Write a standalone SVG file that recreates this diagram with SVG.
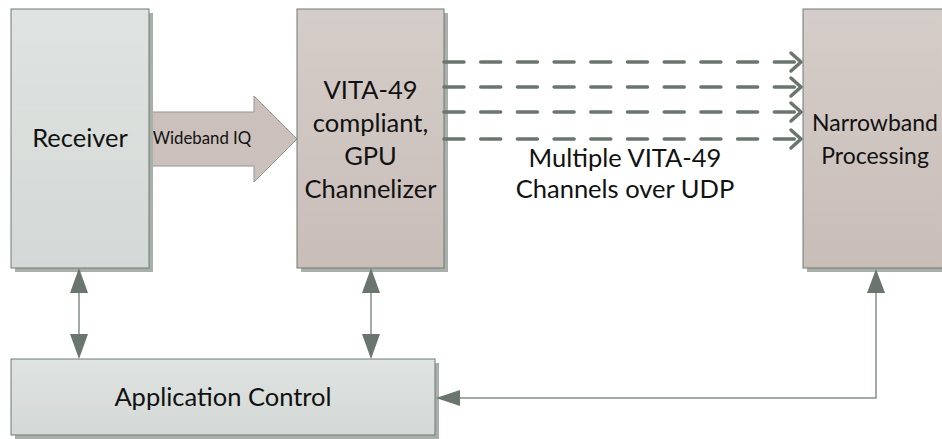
<svg xmlns="http://www.w3.org/2000/svg" width="942" height="439" viewBox="0 0 942 439">
<style>
.shadow{fill:#a9b0ac}
.box{stroke:#6f7a74;stroke-width:1}
.t{font-family:Lato,"Liberation Sans",sans-serif;fill:#111;text-anchor:middle}
.big{font-size:25.5px}
.mid{font-size:23px}
.dash{fill:none;stroke:#6a756e;stroke-width:3.5;stroke-dasharray:20 16.7;stroke-linecap:round}
.ctl{fill:none;stroke:#848e89;stroke-width:1.5}
.head{fill:#6a756e}
</style>
<defs>
<linearGradient id="gGreen" x1="0" y1="0" x2="0" y2="1">
<stop offset="0" stop-color="#dfe3e1"/><stop offset="1" stop-color="#d3d9d6"/>
</linearGradient>
<linearGradient id="gTaupe" x1="0" y1="0" x2="0" y2="1">
<stop offset="0" stop-color="#d5cdc9"/><stop offset="1" stop-color="#c9bdb8"/>
</linearGradient>
<marker id="chev" markerUnits="userSpaceOnUse" markerWidth="16" markerHeight="24" refX="13" refY="12" orient="auto" overflow="visible">
<path d="M3,3 L13,12 L3,21" fill="none" stroke="#6a756e" stroke-width="3.5" stroke-linecap="round" stroke-linejoin="round"/>
</marker>
</defs>

<g id="wideband-arrow">
<polygon points="149,112 254,112 254,96 297,139 254,182 254,166 149,166" fill="#cbc0bb" stroke="#8f9791" stroke-width="1"/>
<text class="t" x="202" y="144" style="font-size:16.8px">Wideband IQ</text>
</g>

<g id="receiver">
<rect class="shadow" x="15" y="13" width="138" height="259"/>
<rect class="box" x="11" y="9" width="138" height="259" fill="url(#gGreen)"/>
<text class="t big" x="80" y="147">Receiver</text>
</g>

<g id="channelizer">
<rect class="shadow" x="301" y="13" width="147" height="259"/>
<rect class="box" x="297" y="9" width="147" height="259" fill="url(#gTaupe)"/>
<text class="t big" x="370.5" y="99">VITA-49</text>
<text class="t big" x="370.5" y="132">compliant,</text>
<text class="t big" x="370.5" y="165">GPU</text>
<text class="t big" x="370.5" y="198">Channelizer</text>
</g>

<g id="narrowband">
<rect class="shadow" x="807" y="13" width="144" height="259"/>
<rect class="box" x="803" y="9" width="144" height="259" fill="url(#gTaupe)"/>
<text class="t mid" x="875" y="131">Narrowband</text>
<text class="t mid" x="875" y="164">Processing</text>
</g>

<g id="app-control">
<rect class="shadow" x="15" y="363" width="424" height="76"/>
<rect class="box" x="11" y="359" width="424" height="76" fill="url(#gGreen)"/>
<text class="t big" x="223" y="406">Application Control</text>
</g>

<g id="udp-label">
<text class="t big" x="625" y="167">Multiple VITA-49</text>
<text class="t big" x="625" y="198">Channels over UDP</text>
</g>

<g id="connectors">
<path class="dash" d="M444,62 H801" marker-end="url(#chev)"/>
<path class="dash" d="M444,87 H801" marker-end="url(#chev)"/>
<path class="dash" d="M444,112 H801" marker-end="url(#chev)"/>
<path class="dash" d="M444,139 H801" marker-end="url(#chev)"/>

<line class="ctl" x1="79" y1="290" x2="79" y2="337"/>
<polygon class="head" points="79,268 70,293 88,293"/>
<polygon class="head" points="79,359 70,334 88,334"/>

<line class="ctl" x1="371" y1="290" x2="371" y2="337"/>
<polygon class="head" points="371,268 362,293 380,293"/>
<polygon class="head" points="371,359 362,334 380,334"/>

<polyline class="ctl" points="876,290 876,398 458,398"/>
<polygon class="head" points="876,269 867,293 885,293"/>
<polygon class="head" points="436,398 460,390 460,406"/>
</g>
</svg>
